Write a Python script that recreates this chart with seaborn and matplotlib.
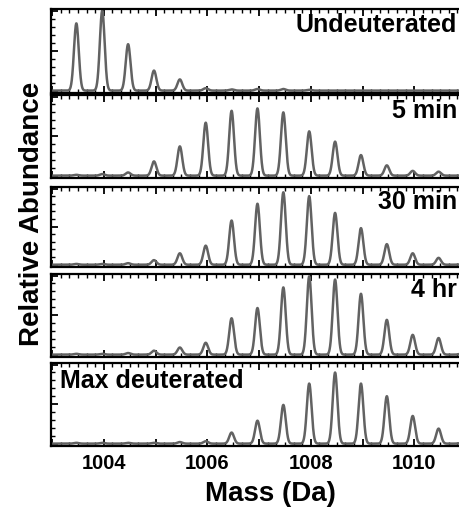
import numpy as np
import pandas as pd
import matplotlib
matplotlib.use("Agg")
import matplotlib.pyplot as plt
from matplotlib.ticker import MultipleLocator, NullFormatter, FuncFormatter
import seaborn as sns

# Isotope peak centroids (Da) and relative peak heights for each exchange time
peak_mass = [1003.47, 1003.97, 1004.47, 1004.97, 1005.47, 1005.97, 1006.47, 1006.97,
             1007.47, 1007.97, 1008.47, 1008.97, 1009.47, 1009.97, 1010.47, 1010.97]

undeuterated = [0.84, 1.00, 0.58, 0.25, 0.14, 0.03, 0.015, 0.02,
                0.02, 0.01, 0.0, 0.0, 0.0, 0.0, 0.0, 0.0]
min_5 = [0.01, 0.02, 0.04, 0.18, 0.37, 0.67, 0.82, 0.85,
         0.80, 0.56, 0.43, 0.26, 0.13, 0.06, 0.05, 0.02]
min_30 = [0.01, 0.01, 0.02, 0.06, 0.15, 0.25, 0.58, 0.80,
          0.95, 0.90, 0.68, 0.48, 0.27, 0.15, 0.09, 0.04]
hr_4 = [0.01, 0.01, 0.02, 0.05, 0.09, 0.15, 0.46, 0.59,
        0.85, 0.99, 0.95, 0.77, 0.44, 0.25, 0.21, 0.08]
max_deut = [0.01, 0.01, 0.01, 0.01, 0.02, 0.03, 0.14, 0.29,
            0.49, 0.76, 0.90, 0.76, 0.60, 0.35, 0.19, 0.06]

panel_labels = ["Undeuterated", "5 min", "30 min", "4 hr", "Max deuterated"]
panel_series = [undeuterated, min_5, min_30, hr_4, max_deut]
x_ticks = [1004, 1006, 1008, 1010]

# instrument peak width (Gaussian sigma, Da)
PEAK_SIGMA = 0.046

sns.set_style("ticks")
plt.rcParams["font.family"] = ["Liberation Sans", "DejaVu Sans"]
plt.rcParams["font.weight"] = "bold"
plt.rcParams["text.color"] = "black"
plt.rcParams["xtick.color"] = "black"
plt.rcParams["ytick.color"] = "black"

W, H = 460, 509
fig = plt.figure(figsize=(W / 100, H / 100), dpi=100)

# panel extents in pixels (top, bottom); axes run slightly past the right edge
panel_px = [(9, 93), (95, 178), (187, 267), (274, 357), (363, 446)]
left_px, right_px = 51, 466

mz = np.linspace(1002.9, 1011.1, 3000)


def profile(heights):
    c = np.asarray(peak_mass)[:, None]
    h = np.asarray(heights)[:, None]
    return (h * np.exp(-0.5 * ((mz[None, :] - c) / PEAK_SIGMA) ** 2)).sum(axis=0)


for i, ((top, bot), label, heights) in enumerate(zip(panel_px, panel_labels, panel_series)):
    ax = fig.add_axes([left_px / W, 1 - bot / H, (right_px - left_px) / W, (bot - top) / H])
    df = pd.DataFrame({"Mass (Da)": mz, "Abundance": profile(heights)})
    sns.lineplot(data=df, x="Mass (Da)", y="Abundance", ax=ax,
                 color="#626262", linewidth=1.8, estimator=None)
    ax.set_xlim(1002.98, 1011.0)
    ax.set_ylim(-0.03, 1.02)
    ax.set_xlabel("")
    ax.set_ylabel("")
    for s in ax.spines.values():
        s.set_linewidth(1.6)
        s.set_color("black")
    ax.xaxis.set_major_locator(MultipleLocator(1))
    ax.xaxis.set_minor_locator(MultipleLocator(1 / 6))
    ax.yaxis.set_major_locator(MultipleLocator(0.5))
    ax.yaxis.set_minor_locator(MultipleLocator(0.1))
    ax.yaxis.set_major_formatter(NullFormatter())
    ax.tick_params(axis="both", which="both", direction="in", top=True, bottom=True,
                   left=True, right=False, color="black")
    ax.tick_params(axis="both", which="major", length=5, width=1.3)
    ax.tick_params(axis="both", which="minor", length=3, width=1.0)
    if i < len(panel_px) - 1:
        ax.xaxis.set_major_formatter(NullFormatter())
    else:
        ax.xaxis.set_major_formatter(
            FuncFormatter(lambda v, p: str(int(round(v))) if int(round(v)) in x_ticks else ""))
        ax.tick_params(axis="x", which="major", pad=6, labelsize=14.5, labelcolor="black")
        for t in ax.get_xticklabels():
            t.set_fontweight("bold")
    if label == "Max deuterated":
        ax.text(0.022, 0.78, label, transform=ax.transAxes, ha="left", va="center",
                fontsize=18, fontweight="bold", color="black")
    else:
        ax.text(0.978, 0.81, label, transform=ax.transAxes, ha="right", va="center",
                fontsize=18, fontweight="bold", color="black")

fig.text(270 / W, 1 - 494 / H, "Mass (Da)", ha="center", va="center",
         fontsize=20, fontweight="bold", color="black")
fig.text(32 / W, 1 - 214 / H, "Relative Abundance", ha="center", va="center",
         rotation=90, fontsize=20, fontweight="bold", color="black")

fig.savefig("out.png", dpi=100)
